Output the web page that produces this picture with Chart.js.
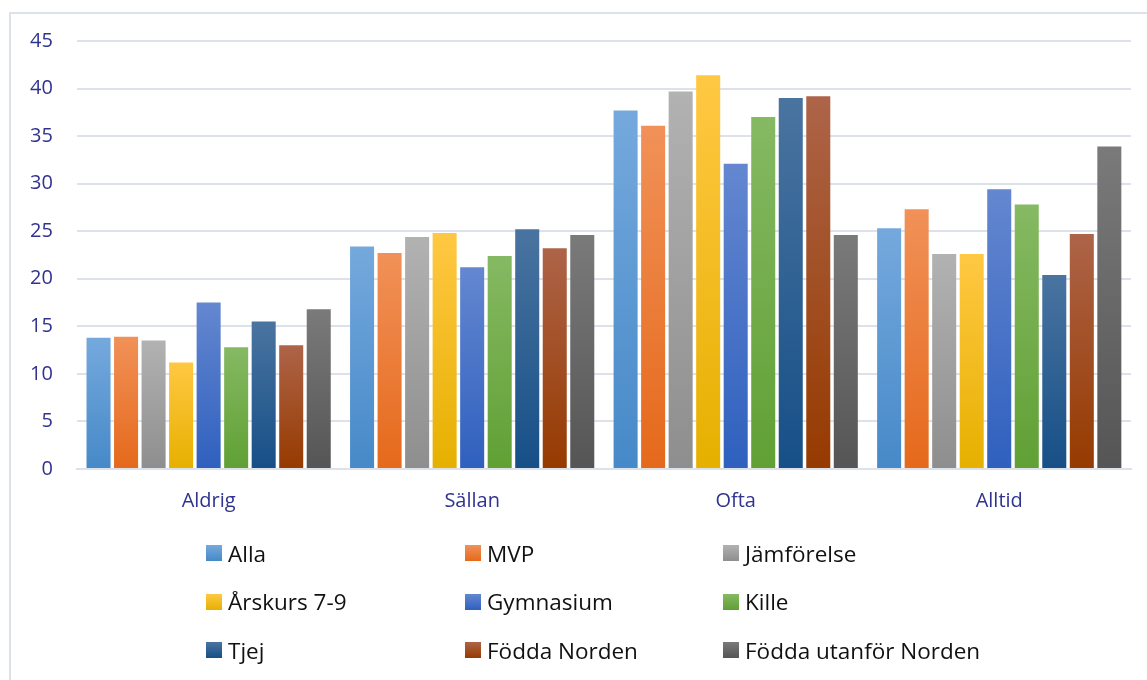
<!DOCTYPE html>
<html>
<head>
<meta charset="utf-8">
<script src="https://cdn.jsdelivr.net/npm/chart.js@4.4.1/dist/chart.umd.min.js"></script>
<style>
  html, body { margin: 0; padding: 0; background: #ffffff; }
  body { width: 1147px; height: 680px; position: relative; overflow: hidden; font-family: "Open Sans", "Noto Sans", sans-serif; }
  #frame { position: absolute; left: 9px; top: 12px; width: 1160px; height: 700px; border-left: 2px solid #dde2ea; border-top: 2px solid #dde2ea; box-sizing: border-box; }
  #wrap { position: absolute; left: 0; top: 0; width: 1147px; height: 541px; }
  #legend { position: absolute; left: 206px; top: 536px; display: grid; grid-template-columns: 259px 258px 300px; grid-auto-rows: 48.5px; }
  .item { display: flex; align-items: center; font-size: 22.5px; color: #111; height: 34px; }
  .box { width: 16px; height: 16px; margin-right: 6px; flex: none; }
</style>
</head>
<body>
<div id="frame"></div>
<div id="wrap"><canvas id="c"></canvas></div>
<div id="legend"></div>
<script>
const categories = ["Aldrig", "Sällan", "Ofta", "Alltid"];
const seriesNames = ["Alla", "MVP", "Jämförelse", "Årskurs 7-9", "Gymnasium", "Kille", "Tjej", "Födda Norden", "Födda utanför Norden"];
const alla        = [13.8, 23.4, 37.7, 25.3];
const mvp         = [13.9, 22.7, 36.1, 27.3];
const jamforelse  = [13.5, 24.4, 39.7, 22.6];
const arskurs79   = [11.2, 24.8, 41.4, 22.6];
const gymnasium   = [17.5, 21.2, 32.1, 29.4];
const kille       = [12.8, 22.4, 37.0, 27.8];
const tjej        = [15.5, 25.2, 39.0, 20.4];
const foddaNorden = [13.0, 23.2, 39.2, 24.7];
const foddaUtanfor= [16.8, 24.6, 24.6, 33.9];
const yTicks = [0, 5, 10, 15, 20, 25, 30, 35, 40, 45];

const seriesValues = [alla, mvp, jamforelse, arskurs79, gymnasium, kille, tjej, foddaNorden, foddaUtanfor];
const topColors    = ["#75a9dd", "#f19158", "#b2b2b2", "#ffc843", "#6487d0", "#86b963", "#4a74a0", "#ad6448", "#7a7a7a"];
const bottomColors = ["#4689c8", "#e5691b", "#8e8e8e", "#e6b000", "#2f60be", "#60a034", "#164f87", "#963a00", "#555555"];

function grad(i) {
  return function(ctx) {
    const chart = ctx.chart;
    if (!chart.chartArea || ctx.type !== 'data') return topColors[i];
    const ys = chart.scales.y;
    const v = ctx.raw;
    const top = ys.getPixelForValue(v);
    const bot = ys.getPixelForValue(0);
    if (!isFinite(top) || !isFinite(bot) || bot - top < 1) return topColors[i];
    const g = chart.ctx.createLinearGradient(0, top, 0, bot);
    g.addColorStop(0, topColors[i]);
    g.addColorStop(1, bottomColors[i]);
    return g;
  };
}

const datasets = seriesNames.map((n, i) => ({
  label: n,
  data: seriesValues[i],
  backgroundColor: grad(i),
  borderWidth: 0,
  categoryPercentage: 0.94,
  barPercentage: 0.873
}));

const tickFont = { family: '"Open Sans", "Noto Sans", sans-serif', size: 20 };

const chart = new Chart(document.getElementById('c'), {
  type: 'bar',
  data: { labels: categories, datasets },
  options: {
    responsive: true,
    maintainAspectRatio: false,
    animation: false,
    layout: { padding: { left: 6, right: 16, top: 41, bottom: 8 } },
    plugins: { legend: { display: false }, tooltip: { enabled: false } },
    scales: {
      x: {
        grid: { display: false, drawTicks: false },
        border: { display: true, color: '#dde2ea', width: 2 },
        ticks: { color: '#30338f', font: tickFont, padding: 20 }
      },
      y: {
        min: 0, max: 45,
        afterBuildTicks: (ax) => { ax.ticks = yTicks.map(v => ({ value: v })); },
        grid: { color: '#dde2ea', lineWidth: 2, drawTicks: false },
        border: { display: false },
        ticks: { color: '#30338f', font: tickFont, padding: 24 }
      }
    }
  }
});

const leg = document.getElementById('legend');
seriesNames.forEach((n, i) => {
  const d = document.createElement('div');
  d.className = 'item';
  const b = document.createElement('span');
  b.className = 'box';
  b.style.background = 'linear-gradient(' + topColors[i] + ',' + bottomColors[i] + ')';
  const t = document.createElement('span');
  t.textContent = n;
  d.appendChild(b); d.appendChild(t);
  leg.appendChild(d);
});
</script>
</body>
</html>
